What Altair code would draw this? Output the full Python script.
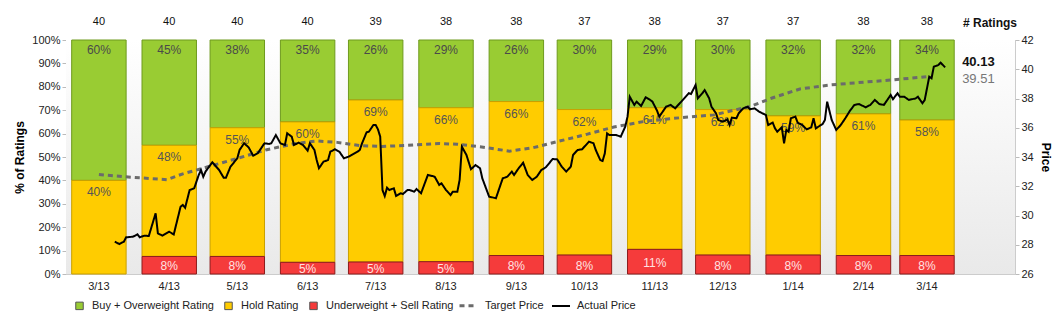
import altair as alt
import pandas as pd

# ---------------- data ----------------
months = ["2013/03/01", "2013/04/01", "2013/05/01", "2013/06/01", "2013/07/01",
          "2013/08/01", "2013/09/01", "2013/10/01", "2013/11/01", "2013/12/01",
          "2014/01/01", "2014/02/01", "2014/03/01"]
month_labels = ["3/13", "4/13", "5/13", "6/13", "7/13", "8/13", "9/13",
                "10/13", "11/13", "12/13", "1/14", "2/14", "3/14"]
n_ratings = [40, 40, 40, 40, 39, 38, 38, 37, 38, 37, 37, 38, 38]
buy_count = [24, 18, 15, 14, 10, 11, 10, 11, 11, 11, 12, 12, 13]
hold_count = [16, 19, 22, 24, 27, 25, 25, 23, 23, 23, 22, 23, 22]
sell_count = [0, 3, 3, 2, 2, 2, 3, 3, 4, 3, 3, 3, 3]

cat_names = ["Buy + Overweight Rating", "Hold Rating", "Underweight + Sell Rating"]

# actual price: days after 2013-03-01, price
price_days = [7, 9, 11, 12, 15, 17, 18, 20, 22, 25, 26, 28, 31, 33, 36, 37, 38, 40, 42, 44,
              45, 46, 47, 50, 53, 55, 56, 58, 61, 62, 64, 66, 68, 70, 73, 75,
              76, 78, 80, 82, 83, 85, 86, 88, 90, 92, 93, 95, 96, 97, 99, 101, 102, 104,
              106, 108, 110, 114, 115, 116, 118, 119, 121, 122, 123, 124, 125, 126, 127, 128,
              130, 131, 133, 134, 136, 137, 139, 140, 142,
              145, 147, 148, 150, 151, 153, 155, 156, 158, 159, 160, 162, 164, 166, 168, 169,
              172, 175, 177, 178, 180, 182, 183, 185, 187, 189, 191, 193, 195, 197, 200, 202,
              204, 206, 208, 209, 211, 213, 216, 218, 219, 221, 222, 223, 224, 225, 228, 230,
              232, 233, 234, 236, 237, 239, 241, 243, 244, 246, 247, 249, 250, 252, 254, 256,
              258, 260, 261, 263, 264, 266, 267, 269, 270, 272, 273, 275, 277, 278, 279, 281,
              282, 284, 286, 287, 289, 291, 294, 295, 297, 298, 299, 301, 302, 303, 304, 305,
              307, 308, 310, 312, 314, 315, 316, 319, 320, 321, 323, 324, 325, 327, 329, 331,
              333, 335, 338, 340, 342, 344, 346, 349, 350, 352, 353, 355, 357, 360, 361, 363,
              364, 366, 367, 368, 370, 371, 373]
price_values = [28.21, 28.05, 28.21, 28.51, 28.55, 28.71, 28.51, 28.62, 28.60, 30.15, 28.78, 28.62, 28.89, 28.71, 30.60, 30.72, 30.53, 31.74, 31.86, 32.77,
                33.11, 32.65, 33.00, 33.64, 33.11, 32.58, 32.58, 33.34, 33.91, 34.48, 34.94, 34.66, 34.09, 34.25, 34.94, 34.89,
                34.94, 35.50, 34.94, 34.82, 35.62, 35.39, 34.82, 34.98, 34.82, 34.43, 34.94, 34.48, 33.79, 33.23, 33.68, 33.79, 34.36, 34.53,
                34.36, 33.91, 34.02, 34.36, 34.48, 34.94, 35.69, 35.73, 36.19, 36.19, 35.89, 35.39, 31.74, 31.33, 31.90, 31.74,
                31.86, 31.33, 31.52, 31.47, 31.74, 31.74, 31.63, 31.81, 31.52,
                32.77, 32.70, 32.65, 32.09, 32.20, 31.74, 31.40, 31.63, 31.63, 32.43, 34.70, 34.14, 33.16, 33.45, 33.23, 32.54,
                31.29, 31.18, 32.09, 32.54, 32.65, 33.00, 32.77, 33.23, 33.61, 32.77, 32.43, 32.65, 33.11, 33.30, 33.86, 33.84,
                33.34, 33.00, 33.34, 34.14, 34.48, 34.53, 35.05, 34.94, 34.48, 33.79, 33.73, 34.25, 35.62, 35.50, 35.50, 35.39,
                36.07, 36.76, 38.12, 37.56, 37.78, 37.49, 38.08, 37.90, 37.78, 37.17, 36.76, 37.21, 37.44, 37.56, 37.33, 37.67,
                38.01, 38.36, 38.31, 38.92, 38.01, 38.36, 38.58, 38.01, 37.44, 36.99, 36.53, 36.41, 36.58, 36.19, 36.69, 36.65,
                36.99, 37.33, 37.44, 37.26, 37.33, 37.10, 36.87, 36.19, 36.35, 35.96, 35.73, 36.03, 34.94, 35.85, 35.73, 36.65,
                36.76, 36.35, 36.19, 35.89, 36.03, 36.65, 35.96, 36.26, 36.53, 37.78, 36.53, 36.19, 35.85, 36.19, 36.65, 37.15,
                37.56, 37.62, 37.40, 37.56, 37.90, 37.62, 37.56, 38.24, 37.95, 38.36, 38.12, 38.12, 37.90, 38.01, 38.12, 37.67,
                37.90, 39.49, 39.38, 40.17, 40.29, 40.45, 40.13]

# target price: days after 2013-03-01, price
target_days = [0, 14, 30, 37, 44, 53, 62, 74, 86, 96, 105, 115, 125, 136, 150, 158,
               168, 181, 191, 202, 215, 227, 241, 256, 271, 287, 297, 309, 322, 334, 349, 366]
target_values = [32.80, 32.62, 32.45, 32.85, 33.15, 33.55, 33.95, 34.50, 34.90, 35.10, 35.00,
                 34.78, 34.72, 34.80, 34.92, 34.87, 34.70, 34.40, 34.62, 35.05, 35.55, 36.05,
                 36.45, 36.68, 36.88, 37.45, 38.05, 38.65, 38.92, 39.08, 39.26, 39.51]

# ---------------- tables ----------------
wide = pd.DataFrame({"month": months, "label": month_labels, "total": n_ratings,
                     "buy": buy_count, "hold": hold_count, "sell": sell_count})
long_rows = []
for i, m in enumerate(months):
    for cat, cnt in zip(cat_names, [buy_count[i], hold_count[i], sell_count[i]]):
        long_rows.append({"month": m, "cat": cat, "count": cnt, "total": n_ratings[i]})
long_df = pd.DataFrame(long_rows)

base_day = pd.Timestamp("2013-03-01")
def to_dates(days):
    return [(base_day + pd.Timedelta(days=d)).strftime("%Y/%m/%d") for d in days]

price_df = pd.concat([
    pd.DataFrame({"date": to_dates(target_days), "price": target_values, "series": "Target Price"}),
    pd.DataFrame({"date": to_dates(price_days), "price": price_values, "series": "Actual Price"}),
], ignore_index=True)

actual_end = pd.DataFrame({"date": to_dates([price_days[-1]]), "price": [price_values[-1]]})
target_end = pd.DataFrame({"date": to_dates([price_days[-1]]), "price": [target_values[-1]]})

# ---------------- chart ----------------
W, H = 949, 234
FONT = "Liberation Sans"

xscale = alt.Scale(domain=[alt.DateTime(year=2013, month=2, date=14, hours=12),
                           alt.DateTime(year=2014, month=4, date=8, hours=19)])
pct_scale = alt.Scale(domain=[0, 100], nice=False)
pct_axis = alt.Axis(values=list(range(0, 101, 10)), labelExpr="datum.value + '%'",
                    title="% of Ratings", titleFontSize=12, titleFontWeight="bold",
                    titlePadding=5, labelFontSize=11, labelColor="#222", tickSize=4,
                    tickColor="#bbbbbb", domainColor="#cccccc", grid=False, labelPadding=2)
price_scale = alt.Scale(domain=[26, 42], nice=False, zero=False)
price_axis = alt.Axis(orient="right", values=list(range(26, 43, 2)), title="Price",
                      titleFontSize=12, titleFontWeight="bold", titlePadding=5,
                      labelFontSize=11, labelColor="#222", tickSize=4, tickColor="#bbbbbb",
                      domainColor="#cccccc", grid=False, labelPadding=2)

bg = alt.Chart(alt.Data(values=[{}])).mark_rect(
    fill=alt.Gradient(gradient="linear", x1=0, x2=0, y1=0, y2=1,
                      stops=[alt.GradientStop(color="#ffffff", offset=0),
                             alt.GradientStop(color="#e9e9e9", offset=1)])
).encode(x=alt.value(0), x2=alt.value(W), y=alt.value(0), y2=alt.value(H))

bars = alt.Chart(long_df).transform_calculate(
    pct="100 * datum.count / datum.total",
    bstart="toDate(datum.month) - 12 * 86400000",
    bend="toDate(datum.month) + 12 * 86400000",
    ord="indexof(['Underweight + Sell Rating', 'Hold Rating', 'Buy + Overweight Rating'], datum.cat)",
    outline="datum.cat == 'Buy + Overweight Rating' ? '#6e9a1e' : (datum.cat == 'Hold Rating' ? '#c9a000' : '#8c1c1c')",
).transform_stack(
    stack="pct", as_=["y0", "y1"], groupby=["month"],
    sort=[alt.SortField("ord", order="ascending")]
).transform_filter("datum.count > 0").mark_bar(strokeWidth=1).encode(
    x=alt.X("bstart:T", scale=xscale, axis=None),
    x2="bend:T",
    y=alt.Y("y0:Q", scale=pct_scale, axis=pct_axis),
    y2="y1:Q",
    fill=alt.Fill("cat:N", scale=alt.Scale(domain=cat_names, range=["#99cc33", "#ffcc00", "#f53b3b"]),
                  legend=alt.Legend(orient="none", legendX=8, legendY=260, direction="horizontal",
                                    title=None, symbolType="square", symbolSize=56,
                                    symbolStrokeColor="#555555", symbolStrokeWidth=1,
                                    labelFontSize=11, labelColor="#222", labelOffset=7,
                                    columnPadding=8, padding=0)),
    stroke=alt.Stroke("outline:N", scale=None),
)

buy_lbl = alt.Chart(wide).transform_calculate(
    ytop="100", t="format(100 * datum.buy / datum.total, '.0f') + '%'"
).mark_text(dy=10, fontSize=12, color="#4a4a4a", baseline="middle").encode(
    x=alt.X("month:T", scale=xscale, axis=None),
    y=alt.Y("ytop:Q", scale=pct_scale, axis=pct_axis),
    text="t:N")

hold_lbl = alt.Chart(wide).transform_calculate(
    ytop="100 * (datum.hold + datum.sell) / datum.total",
    t="format(100 * datum.hold / datum.total, '.0f') + '%'"
).mark_text(dy=12, fontSize=12, color="#555555", baseline="middle").encode(
    x=alt.X("month:T", scale=xscale, axis=None),
    y=alt.Y("ytop:Q", scale=pct_scale, axis=pct_axis),
    text="t:N")

sell_lbl = alt.Chart(wide).transform_filter("datum.sell > 0").transform_calculate(
    ymid="50 * datum.sell / datum.total",
    t="format(100 * datum.sell / datum.total, '.0f') + '%'"
).mark_text(dy=1, fontSize=12, color="#ffe2e2", baseline="middle").encode(
    x=alt.X("month:T", scale=xscale, axis=None),
    y=alt.Y("ymid:Q", scale=pct_scale, axis=pct_axis),
    text="t:N")

pct_group = alt.layer(bars, buy_lbl, hold_lbl, sell_lbl)

line_legend = alt.Legend(orient="none", legendX=392, legendY=255, direction="horizontal",
                         title=None, symbolType="stroke", symbolSize=324,
                         symbolStrokeWidth=2.5, labelFontSize=11, labelColor="#222",
                         labelOffset=6, columnPadding=4, padding=0)
series_dom = ["Target Price", "Actual Price"]

lines = alt.Chart(price_df).mark_line().encode(
    x=alt.X("date:T", scale=xscale, axis=None),
    y=alt.Y("price:Q", scale=price_scale, axis=price_axis),
    color=alt.Color("series:N", scale=alt.Scale(domain=series_dom, range=["#6b6b6b", "#000000"]),
                    legend=line_legend),
    strokeDash=alt.StrokeDash("series:N", scale=alt.Scale(domain=series_dom, range=[[5, 4], [1, 0]]),
                              legend=line_legend),
    strokeWidth=alt.StrokeWidth("series:N", scale=alt.Scale(domain=series_dom, range=[3, 2]),
                                legend=None),
)

actual_lbl = alt.Chart(actual_end).transform_calculate(
    t="format(datum.price, '.2f')"
).mark_text(align="left", baseline="middle", dx=17, dy=-5, fontSize=13,
            fontWeight="bold", color="#111111").encode(
    x=alt.X("date:T", scale=xscale, axis=None),
    y=alt.Y("price:Q", scale=price_scale, axis=price_axis),
    text="t:N")

target_lbl = alt.Chart(target_end).transform_calculate(
    t="format(datum.price, '.2f')"
).mark_text(align="left", baseline="middle", dx=17, dy=3, fontSize=13,
            color="#777777").encode(
    x=alt.X("date:T", scale=xscale, axis=None),
    y=alt.Y("price:Q", scale=price_scale, axis=price_axis),
    text="t:N")

price_group = alt.layer(lines, actual_lbl, target_lbl)

top_counts = alt.Chart(wide).mark_text(fontSize=11, color="#111", baseline="middle").encode(
    x=alt.X("month:T", scale=xscale, axis=None),
    y=alt.value(-18),
    text="total:Q")

x_labels = alt.Chart(wide).mark_text(fontSize=11, color="#222", baseline="middle").encode(
    x=alt.X("month:T", scale=xscale, axis=None),
    y=alt.value(H + 13),
    text="label:N")

hdr = alt.Chart(wide.tail(1)).transform_calculate(t="'# Ratings'").mark_text(
    fontSize=12, fontWeight="bold", color="#111", align="left", baseline="middle", dx=36
).encode(x=alt.X("month:T", scale=xscale, axis=None), y=alt.value(-17), text="t:N")

chart = alt.layer(bg, pct_group, price_group, top_counts, x_labels, hdr).resolve_scale(
    y="independent"
).properties(
    width=W, height=H,
    autosize=alt.AutoSizeParams(type="none"),
    padding={"left": 66, "top": 40, "right": 45, "bottom": 51},
).configure(font=FONT).configure_view(stroke="#cccccc")

chart.save("out.html", embed_options={"renderer": "svg", "actions": False})
